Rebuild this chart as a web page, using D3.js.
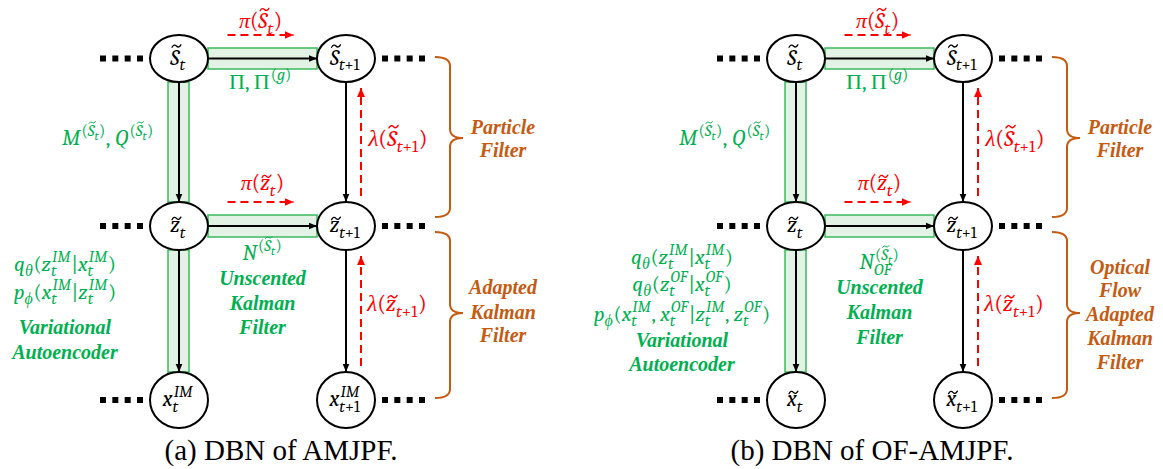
<!DOCTYPE html>
<html>
<head>
<meta charset="utf-8">
<script src="https://cdn.jsdelivr.net/npm/d3@7"></script>
<style>
  body { margin: 0; background: #fff; }
  svg { display: block; }
</style>
</head>
<body>
<svg id="fig" width="1163" height="469"></svg>
<script>
// ---- content of the two dynamic Bayesian networks ----
const panelTitles = ["(a) DBN of AMJPF.", "(b) DBN of OF-AMJPF."];
const steps = ["t", "t+1"];
const layers = ["S", "z", "x"];
const stateLabels = ["~S_t", "~S_{t+1}"];
const latentLabels = ["~z_t", "~z_{t+1}"];
const obsLabels = [["x_t^{IM}", "x_{t+1}^{IM}"], ["~x_t", "~x_{t+1}"]];
const forwardMsgs = ["π(~S_t)", "π(~z_t)"];
const backwardMsgs = ["λ(~S_{t+1})", "λ(~z_{t+1})"];
const transitionLabel = "Π, Π^{(g)}";
const couplingLabel = "M^{(~S_t)}, Q^{(~S_t)}";
const ukfLabels = ["N^{(~S_t)}", "N_{OF}^{(~S_t)}"];
const vaeLabels = [
  ["q_θ(z_t^{IM}|x_t^{IM})", "p_ϕ(x_t^{IM}|z_t^{IM})"],
  ["q_θ(z_t^{IM}|x_t^{IM})", "q_θ(z_t^{OF}|x_t^{OF})", "p_ϕ(x_t^{IM}, x_t^{OF}|z_t^{IM}, z_t^{OF})"]
];
const ukfName = ["Unscented", "Kalman", "Filter"];
const vaeName = ["Variational", "Autoencoder"];
const filterNames = [
  [["Particle", "Filter"], ["Adapted", "Kalman", "Filter"]],
  [["Particle", "Filter"], ["Optical", "Flow", "Adapted", "Kalman", "Filter"]]
];

// ---- styling ----
const GREEN = "#00b050", RED = "#ff0000", ORANGE = "#c55a11";
const BAND_FILL = "#e2f3e6", BAND_STROKE = "#3cb95c";
const MATH_FONT = "'Cambria', 'Caladea', 'Liberation Serif', serif";
const TEXT_FONT = "'Liberation Serif'";
const SCRIPT = 0.74;

const svg = d3.select("#fig");

// ---- layout scales ----
const panelX = d3.scaleOrdinal().domain([0, 1]).range([0, 617]);
const x = d3.scalePoint().domain(steps).range([179, 346]);
const y = d3.scaleOrdinal().domain(layers).range([58.5, 226, 400]);
const ry = d3.scaleOrdinal().domain(layers).range([23.5, 24, 28]);
const RX = 29;

// ---- arrow markers ----
const defs = svg.append("defs");
defs.append("marker").attr("id", "ahBlack").attr("markerUnits", "userSpaceOnUse")
  .attr("markerWidth", 9).attr("markerHeight", 8).attr("refX", 8.5).attr("refY", 4)
  .attr("orient", "auto")
  .append("path").attr("d", "M0,0.5 L8.5,4 L0,7.5 Z").attr("fill", "#000");
defs.append("marker").attr("id", "ahRed").attr("markerUnits", "userSpaceOnUse")
  .attr("markerWidth", 10).attr("markerHeight", 9).attr("refX", 9).attr("refY", 4.5)
  .attr("orient", "auto")
  .append("path").attr("d", "M0,0.5 L9,4.5 L0,8.5 Z").attr("fill", RED);

// ---- tiny math typesetter: _ subscript, ^ superscript, ~ tilde accent ----
function parse(s) {
  let i = 0;
  function group() {
    const out = [];
    while (i < s.length && s[i] !== "}") {
      const c = s[i];
      if (c === "_" || c === "^") {
        i++;
        let arg;
        if (s[i] === "{") { i++; arg = group(); i++; } else { arg = [{ t: s[i++] }]; }
        const key = c === "_" ? "sub" : "sup";
        const last = out[out.length - 1];
        if (last && last.script && !last[key]) last[key] = arg;
        else out.push({ script: true, [key]: arg });
      } else if (c === "~") {
        i++;
        out.push({ t: s[i++], tilde: true });
      } else {
        out.push({ t: c });
        i++;
      }
    }
    return out;
  }
  return group();
}

function isItalic(c) { return /[A-Za-zα-ωϕ]/.test(c); }

function mathRun(g, tokens, size, x0, y0, color) {
  let cx = x0;
  tokens.forEach(tk => {
    if (tk.script) {
      let ws = 0, wb = 0;
      if (tk.sup) ws = mathRun(g, tk.sup, size * SCRIPT, cx + size * 0.05, y0 - size * 0.4, color) + size * 0.05;
      if (tk.sub) wb = mathRun(g, tk.sub, size * SCRIPT, cx, y0 + size * 0.25, color);
      cx += Math.max(ws, wb) + size * 0.03;
    } else if (tk.t === " ") {
      cx += size * 0.2;
    } else {
      const it = isItalic(tk.t);
      const el = g.append("text")
        .attr("x", cx).attr("y", y0)
        .style("font-family", MATH_FONT)
        .style("font-size", size + "px")
        .style("font-style", it ? "italic" : "normal")
        .attr("fill", color).text(tk.t);
      const w = el.node().getComputedTextLength();
      if (tk.tilde) {
        const upper = tk.t === tk.t.toUpperCase();
        const ty = y0 - size * (upper ? 0.84 : 0.62);
        const tw = size * 0.4, h = size * 0.055;
        const tx = cx + w / 2 + size * 0.07 - tw / 2;
        g.append("path")
          .attr("d", `M${tx},${ty + h} Q${tx + tw / 4},${ty - 2 * h} ${tx + tw / 2},${ty} T${tx + tw},${ty - h}`)
          .attr("fill", "none").attr("stroke", color).attr("stroke-width", size * 0.06)
          .attr("stroke-linecap", "round");
      }
      cx += w;
    }
  });
  return cx - x0;
}

function math(parent, str, size, cx, baseline, color) {
  const g = parent.append("g");
  const w = mathRun(g, parse(str), size, 0, baseline, color);
  g.attr("transform", `translate(${cx - w / 2},0)`);
  return g;
}

function boldLabel(parent, lines, cx, centers, color) {
  parent.selectAll(null).data(lines).join("text")
    .attr("x", cx).attr("y", (d, i) => centers[i] + 7)
    .attr("text-anchor", "middle")
    .style("font-family", TEXT_FONT)
    .style("font-size", "20px")
    .style("font-weight", "bold").style("font-style", "italic")
    .attr("fill", color).text(d => d);
}

function brace(parent, xl, xv, xt, y0, ym, y1) {
  const r = 9;
  parent.append("path")
    .attr("d", `M${xl},${y0} Q${xv},${y0} ${xv},${y0 + r} L${xv},${ym - r} Q${xv},${ym} ${xt},${ym}` +
               ` Q${xv},${ym} ${xv},${ym + r} L${xv},${y1 - r} Q${xv},${y1} ${xl},${y1}`)
    .attr("fill", "none").attr("stroke", ORANGE).attr("stroke-width", 2);
}

function dots(parent, x0, yc) {
  parent.selectAll(null).data(d3.range(4)).join("rect")
    .attr("x", i => x0 + i * 12.33).attr("y", yc - 3)
    .attr("width", 6).attr("height", 6).attr("fill", "#000");
}

// ---- draw both panels ----
[0, 1].forEach(p => {
  const g = svg.append("g").attr("transform", `translate(${panelX(p)},0)`);
  const xa = x("t"), xb = x("t+1");
  const mid = (xa + xb) / 2;

  // shaded learned-transition bands
  ["S", "z"].forEach(l => {
    const h = l === "S" ? 10.5 : 11;
    g.append("rect").attr("x", xa + RX).attr("y", y(l) - h)
      .attr("width", xb - xa - 2 * RX).attr("height", 2 * h)
      .attr("fill", BAND_FILL).attr("stroke", BAND_STROKE).attr("stroke-width", 1.5);
  });
  [["S", "z"], ["z", "x"]].forEach(([a, b]) => {
    g.append("rect").attr("x", xa - 11).attr("y", y(a) + ry(a))
      .attr("width", 21).attr("height", (y(b) - ry(b)) - (y(a) + ry(a)))
      .attr("fill", BAND_FILL).attr("stroke", BAND_STROKE).attr("stroke-width", 1.5);
  });

  // causal arrows
  ["S", "z"].forEach(l => {
    g.append("line").attr("x1", xa + RX).attr("x2", xb - RX).attr("y1", y(l)).attr("y2", y(l))
      .attr("stroke", "#000").attr("stroke-width", 2).attr("marker-end", "url(#ahBlack)");
  });
  [xa, xb].forEach(cx => {
    [["S", "z"], ["z", "x"]].forEach(([a, b]) => {
      g.append("line").attr("x1", cx).attr("x2", cx)
        .attr("y1", y(a) + ry(a)).attr("y2", y(b) - ry(b))
        .attr("stroke", "#000").attr("stroke-width", 2).attr("marker-end", "url(#ahBlack)");
    });
  });

  // message passing (dashed red)
  ["S", "z"].forEach(l => {
    const yy = y(l) - ry(l);
    g.append("line").attr("x1", mid - 35).attr("x2", mid + 31).attr("y1", yy).attr("y2", yy)
      .attr("stroke", RED).attr("stroke-width", 2).attr("stroke-dasharray", "8,5")
      .attr("marker-end", "url(#ahRed)");
  });
  [["S", "z"], ["z", "x"]].forEach(([a, b]) => {
    g.append("line").attr("x1", xb + 15).attr("x2", xb + 15)
      .attr("y1", y(b) - ry(b) - 6).attr("y2", y(a) + ry(a) + 6)
      .attr("stroke", RED).attr("stroke-width", 2).attr("stroke-dasharray", "8,5")
      .attr("marker-end", "url(#ahRed)");
  });

  // nodes
  const nodeText = { S: stateLabels, z: latentLabels, x: obsLabels[p] };
  layers.forEach(l => {
    steps.forEach((s, k) => {
      g.append("ellipse").attr("cx", x(s)).attr("cy", y(l))
        .attr("rx", RX).attr("ry", ry(l))
        .attr("fill", "#fff").attr("stroke", "#000").attr("stroke-width", 2);
      math(g, nodeText[l][k], 22, x(s) - 1, y(l) + 6, "#000");
    });
    dots(g, xa - 79, y(l));
    dots(g, xb + 36, y(l));
  });

  // edge annotations
  math(g, forwardMsgs[0], 22, mid - 2, 28, RED);
  math(g, forwardMsgs[1], 22, mid, 190, RED);
  math(g, backwardMsgs[0], 23, xb + 52, 146, RED);
  math(g, backwardMsgs[1], 23, xb + 51, 311, RED);
  math(g, transitionLabel, 22, mid - 2, 89, GREEN);
  math(g, couplingLabel, 22, 108, 145, GREEN);

  const ukfY = p === 0 ? [253, 278, 303, 327] : [262, 287, 312, 337];
  math(g, ukfLabels[p], 22, mid, ukfY[0] + 7, GREEN);
  boldLabel(g, ukfName, mid, ukfY.slice(1), GREEN);

  const vaeY = p === 0 ? [265, 293] : [258, 285, 315];
  vaeLabels[p].forEach((s, i) => math(g, s, 21.5, 65, vaeY[i] + 6, GREEN));
  boldLabel(g, vaeName, 65, p === 0 ? [327, 352] : [340, 364], GREEN);

  // filter braces
  brace(g, 435, 450, 463, 57, 138, 217);
  brace(g, 435, 450, 463, 232, 313, 398);
  boldLabel(g, filterNames[p][0], 503, [127, 150], ORANGE);
  boldLabel(g, filterNames[p][1], 503, p === 0 ? [287, 312, 335] : [267, 290, 314, 338, 362], ORANGE);
});

// captions
svg.selectAll(null).data(panelTitles).join("text")
  .attr("x", (d, i) => [281, 872][i]).attr("y", 460)
  .attr("text-anchor", "middle")
  .style("font-family", TEXT_FONT)
  .style("font-size", "29px")
  .attr("fill", "#000").text(d => d);
</script>
</body>
</html>
